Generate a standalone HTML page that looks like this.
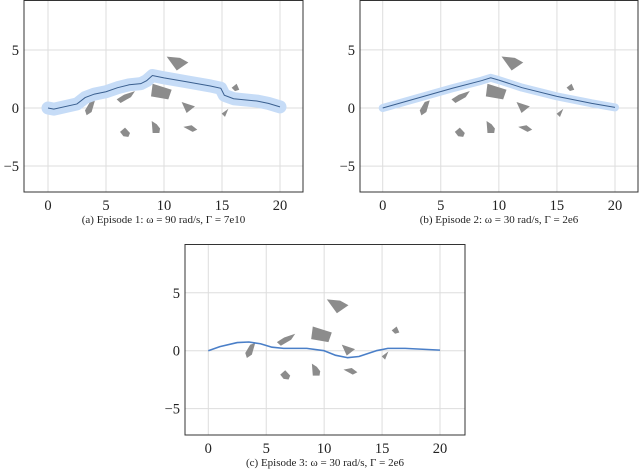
<!DOCTYPE html>
<html><head><meta charset="utf-8"><style>
body{margin:0;background:#fff;width:640px;height:470px;overflow:hidden}
svg{display:block}
text{font-family:"Liberation Serif",serif;fill:#222}
</style></head><body>
<svg id="fig" width="640" height="470"></svg>
<script>
const xTicks=[0,5,10,15,20];
const yTicks=[-5,0,5];
const obstacles=[
[[10.23,4.43],[11.38,4.32],[12.1,3.92],[11.1,3.23]],
[[9.02,2.09],[10.66,1.57],[10.37,0.74],[8.88,1.0]],
[[5.92,0.74],[6.55,1.14],[7.5,1.46],[7.15,0.94],[6.26,0.43]],
[[3.62,0.52],[4.05,0.66],[3.76,-0.34],[3.33,-0.63],[3.19,-0.2]],
[[11.52,0.52],[12.67,0.14],[11.95,-0.43]],
[[14.97,-0.49],[15.55,-0.06],[15.26,-0.77]],
[[15.83,1.75],[16.26,2.09],[16.49,1.57],[16.12,1.46]],
[[6.21,-2.06],[6.64,-1.69],[7.07,-2.15],[6.93,-2.49],[6.5,-2.43]],
[[8.94,-1.12],[9.37,-1.4],[9.66,-1.77],[9.6,-2.15],[9.02,-2.15]],
[[11.67,-1.63],[12.38,-1.49],[12.87,-1.86],[12.47,-2.06]]
];
const trajA=[[0,0],[0.5,-0.1],[2.5,0.35],[3.2,0.9],[4,1.2],[5,1.4],[6,1.75],[7,2.0],[8,2.1],[8.5,2.35],[9,2.8],[10,2.6],[12,2.25],[14,1.9],[14.9,1.7],[15.2,1.1],[16,0.8],[18,0.6],[19,0.4],[20,0.1]];
const trajB=[[0,0],[3,0.85],[6,1.7],[8.5,2.35],[9.3,2.6],[10,2.4],[12,1.75],[15,1.0],[18,0.4],[20,0.05]];
const trajC=[[0,0],[1,0.35],[2.5,0.7],[3.5,0.75],[4.5,0.6],[5.5,0.3],[6.5,0.2],[8.5,0.2],[10,0],[11,-0.4],[12,-0.6],[13,-0.5],[14.5,0],[15.5,0.2],[17,0.2],[20,0.05]];
const panels=[
 {name:'a',left:24,right:303,top:0,bottom:192,x0:48,x20:280,y0:108,cap:'(a) Episode 1: ',capTail:' = 90 rad/s, Γ = 7e10',traj:trajA,band:13},
 {name:'b',left:360,right:638,top:0,bottom:192,x0:382.7,x20:615,y0:108,cap:'(b) Episode 2: ',capTail:' = 30 rad/s, Γ = 2e6',traj:trajB,band:8},
 {name:'c',left:185,right:465,top:244,bottom:435,x0:208.3,x20:440,y0:350.7,cap:'(c) Episode 3: ',capTail:' = 30 rad/s, Γ = 2e6',traj:trajC,band:0}
];
const NS='http://www.w3.org/2000/svg';
const svg=document.getElementById('fig');
function mk(tag,attrs,parent){const e=document.createElementNS(NS,tag);for(const k in attrs)e.setAttribute(k,attrs[k]);parent.appendChild(e);return e;}
panels.forEach(p=>{
 const k=(p.x20-p.x0)/20;
 const sx=v=>p.x0+v*k, sy=v=>p.y0-v*k;
 const g=mk('g',{},svg);
 
 
 xTicks.forEach(t=>{const l=mk('line',{x1:sx(t),x2:sx(t),y1:p.top,y2:p.bottom,stroke:'#ddd','stroke-width':1},g);
  
  const tx=mk('text',{x:sx(t),y:p.bottom+18,'text-anchor':'middle','font-size':14.5},g);tx.textContent=t;
  });
 yTicks.forEach(t=>{const l=mk('line',{x1:p.left,x2:p.right,y1:sy(t),y2:sy(t),stroke:'#ddd','stroke-width':1},g);
  
  const tx=mk('text',{x:p.left-5,y:sy(t)+5,'text-anchor':'end','font-size':14.5},g);tx.textContent=t<0?'−'+(-t):t;
  });
 obstacles.forEach(o=>{const pg=mk('polygon',{points:o.map(q=>sx(q[0])+','+sy(q[1])).join(' '),fill:'#8c8c8c'},g);
  });
 const pts=p.traj.map(q=>sx(q[0])+','+sy(q[1])).join(' ');
 if(p.band){const b=mk('polyline',{points:pts,fill:'none',stroke:'#c6dcf7','stroke-width':p.band,'stroke-linejoin':'round','stroke-linecap':'round'},g);
  
  const l=mk('polyline',{points:pts,fill:'none',stroke:'#3a5f8f','stroke-width':1},g);
  }
 else{const l=mk('polyline',{points:pts,fill:'none',stroke:'#4a7fc8','stroke-width':1.6,'stroke-linejoin':'round'},g);
  }
 const fr=mk('rect',{x:p.left,y:p.top+0.5,width:p.right-p.left,height:p.bottom-p.top-0.5,fill:'none',stroke:'#333','stroke-width':1},g);
 
 const cap=mk('text',{x:(p.left+p.right)/2,y:p.bottom+31,'text-anchor':'middle','font-size':11},g);
 cap.textContent=p.cap+'ω'+p.capTail;
 
});
</script>
</body></html>
